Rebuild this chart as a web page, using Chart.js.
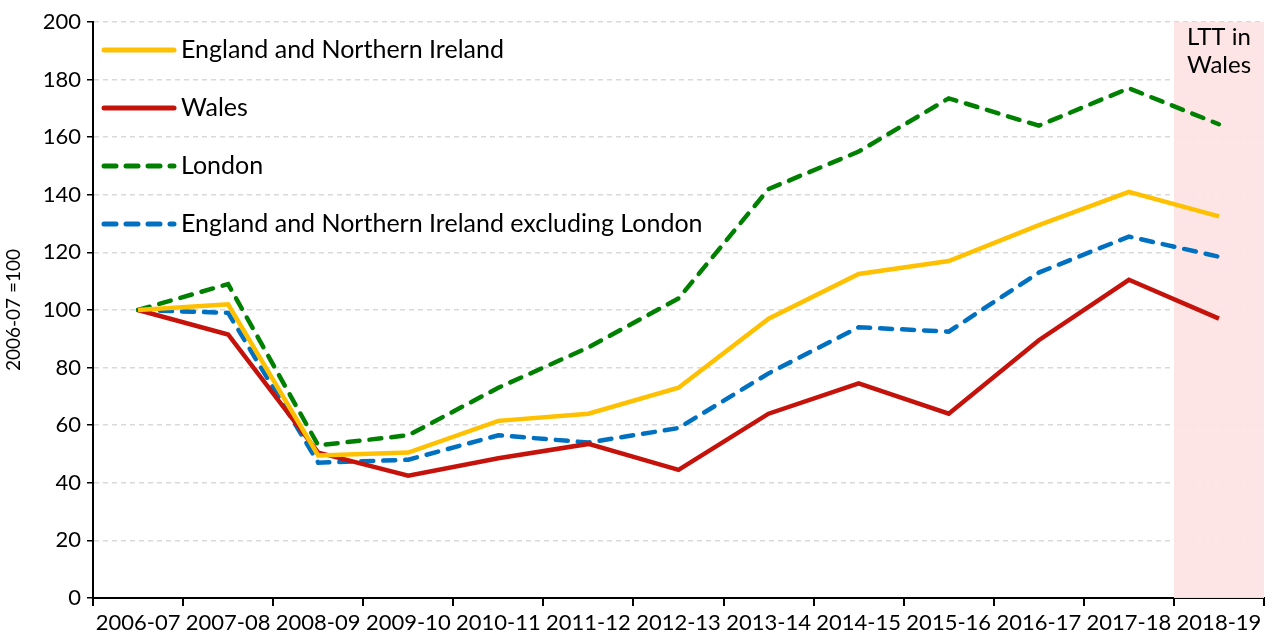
<!DOCTYPE html>
<html>
<head>
<meta charset="utf-8">
<script src="https://cdn.jsdelivr.net/npm/chart.js@4"></script>
<style>
  html, body { margin: 0; padding: 0; background: #fff; }
  #wrap { width: 1274px; height: 639px; }
</style>
</head>
<body>
<div id="wrap"><canvas id="grafico" width="1274" height="639"></canvas></div>
<script>
// ----- dados -----
const anos = ['2006-07', '2007-08', '2008-09', '2009-10', '2010-11', '2011-12', '2012-13',
  '2013-14', '2014-15', '2015-16', '2016-17', '2017-18', '2018-19'];
const englandNI = [100, 102, 49.5, 50.5, 61.5, 64, 73, 97, 112.5, 117, 129.5, 141, 132.5];
const wales = [100, 91.5, 50.5, 42.5, 48.5, 53.5, 44.5, 64, 74.5, 64, 89.5, 110.5, 97];
const london = [100, 109, 53, 56.5, 73, 87, 104, 142, 155, 173.5, 164, 177, 164.5];
const englandNIexLondon = [100, 99, 47, 48, 56.5, 54, 59, 78, 94, 92.5, 113, 125.5, 118.5];
const yTicks = [0, 20, 40, 60, 80, 100, 120, 140, 160, 180, 200];
const faixaLTT = '2018-19';
const faixaTexto = ['LTT in', 'Wales'];

const fonte = 'Lato, "Liberation Sans", sans-serif';

// faixa rosa do LTT + texto
const faixaPlugin = {
  id: 'faixa',
  beforeDatasetsDraw(chart) {
    const { ctx, chartArea, scales } = chart;
    const idx = anos.indexOf(faixaLTT);
    const meio = (scales.x.getPixelForValue(idx) - scales.x.getPixelForValue(idx - 1)) / 2;
    const x0 = scales.x.getPixelForValue(idx) - meio;
    const x1 = Math.min(scales.x.getPixelForValue(idx) + meio, chartArea.right);
    ctx.save();
    ctx.fillStyle = 'rgba(253, 228, 228, 0.95)';
    ctx.fillRect(x0, chartArea.top, x1 - x0, chartArea.bottom - chartArea.top);
    ctx.fillStyle = '#000';
    ctx.font = '24px ' + fonte;
    ctx.textAlign = 'center';
    ctx.textBaseline = 'middle';
    ctx.fillText(faixaTexto[0], (x0 + x1) / 2, chartArea.top + 15);
    ctx.fillText(faixaTexto[1], (x0 + x1) / 2, chartArea.top + 43);
    ctx.restore();
  }
};

// legenda dentro da area
const legendaPlugin = {
  id: 'legendaInterna',
  afterDraw(chart) {
    const { ctx, chartArea } = chart;
    ctx.save();
    chart.data.datasets.forEach((ds, i) => {
      const y = chartArea.top + 28 + i * 58;
      ctx.strokeStyle = ds.borderColor;
      ctx.lineWidth = 5;
      ctx.lineCap = 'round';
      ctx.setLineDash(ds.borderDash || []);
      ctx.beginPath();
      ctx.moveTo(chartArea.left + 11, y);
      ctx.lineTo(chartArea.left + 81, y);
      ctx.stroke();
      ctx.setLineDash([]);
      ctx.fillStyle = '#000';
      ctx.font = '25px ' + fonte;
      ctx.textBaseline = 'middle';
      ctx.fillText(ds.label, chartArea.left + 88, y);
    });
    ctx.restore();
  }
};

const ctxGrafico = document.getElementById('grafico').getContext('2d');

new Chart(ctxGrafico, {
  type: 'line',
  data: {
    labels: anos,
    datasets: [
      {
        label: 'England and Northern Ireland',
        data: englandNI,
        borderColor: '#FFC000',
        borderWidth: 4.5,
        pointRadius: 0,
        tension: 0,
        fill: false
      },
      {
        label: 'Wales',
        data: wales,
        borderColor: '#C5130C',
        borderWidth: 4.5,
        pointRadius: 0,
        tension: 0,
        fill: false
      },
      {
        label: 'London',
        data: london,
        borderColor: '#008000',
        borderWidth: 4.5,
        borderDash: [12, 10],
        borderCapStyle: 'round',
        pointRadius: 0,
        tension: 0,
        fill: false
      },
      {
        label: 'England and Northern Ireland excluding London',
        data: englandNIexLondon,
        borderColor: '#0070C0',
        borderWidth: 4.5,
        borderDash: [12, 10],
        borderCapStyle: 'round',
        pointRadius: 0,
        tension: 0,
        fill: false
      }
    ]
  },
  options: {
    responsive: false,
    animation: false,
    layout: { padding: { top: 22, right: 10, left: 0, bottom: 0 } },
    plugins: {
      legend: { display: false },
      tooltip: { enabled: false }
    },
    scales: {
      x: {
        offset: true,
        afterFit: axis => { axis.height = 41; },
        grid: {
          display: true,
          drawOnChartArea: false,
          drawTicks: true,
          tickLength: 8,
          color: '#000',
          lineWidth: 2,
          offset: true
        },
        border: { color: '#000', width: 2 },
        ticks: {
          color: '#000',
          font: { family: fonte, size: 22 },
          maxRotation: 0,
          autoSkip: false,
          padding: 4
        }
      },
      y: {
        min: 0,
        max: 200,
        afterBuildTicks: axis => { axis.ticks = yTicks.map(v => ({ value: v })); },
        afterFit: axis => { axis.width = 93; },
        grid: {
          color: '#d9d9d9',
          lineWidth: 1.5,
          tickColor: '#000',
          tickLength: 6,
          drawTicks: true
        },
        border: { color: '#000', width: 2, dash: [5, 4] },
        ticks: {
          color: '#000',
          font: { family: fonte, size: 22 },
          padding: 6
        },
        title: {
          display: true,
          text: '2006-07 =100',
          color: '#000',
          font: { family: fonte, size: 19 },
          padding: 2
        }
      }
    }
  },
  plugins: [faixaPlugin, legendaPlugin]
});
</script>
</body>
</html>
